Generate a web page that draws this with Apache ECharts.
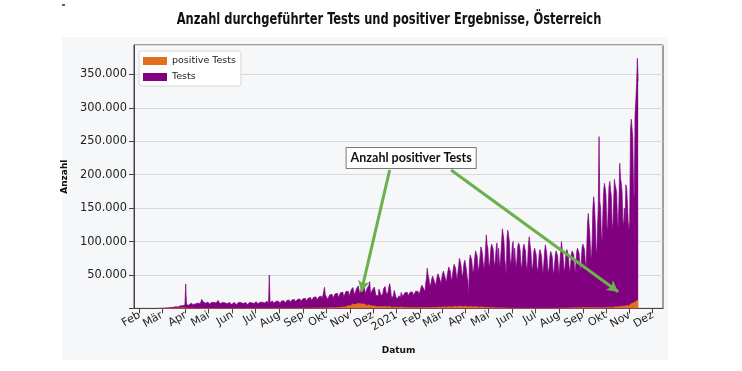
<!DOCTYPE html>
<html>
<head>
<meta charset="utf-8">
<script src="https://cdn.jsdelivr.net/npm/echarts@6/dist/echarts.min.js"></script>
<style>
html,body{margin:0;padding:0;background:#ffffff;}
#panel{position:absolute;left:62px;top:37px;width:606px;height:323px;background:#f6f7f9;}
#chart{position:absolute;left:0;top:0;width:742px;height:371px;}
</style>
</head>
<body>
<div id="panel"></div>
<div id="chart"></div>
<script>
// ---- DATA (daily values in thousands, first day 2020-02-24) ----
const firstDay = [2020, 1, 24];
const testsK = [
0.1,0.1,0.2,0.2,0.3,0.2,0.2,
0.4,0.5,0.5,0.6,0.7,0.6,0.5,
0.8,1.0,1.1,1.3,1.5,1.3,1.2,
1.6,2.0,2.3,2.6,2.8,2.4,2.2,
3.0,3.4,3.8,4.2,4.6,4.0,3.6,
4.4,5.2,36.5,5.8,6.2,5.0,4.6,
6.0,7.2,7.8,7.4,6.9,5.6,5.1,
5.6,7.0,8.1,8.4,7.8,6.0,5.5,
7.1,9.2,13.5,11.0,9.4,7.2,6.6,
7.8,9.0,9.8,9.4,8.2,6.4,6.0,
7.4,9.1,9.9,9.3,8.8,6.9,6.2,
8.0,9.4,12.0,10.2,9.1,7.0,6.3,
7.2,8.9,9.6,8.6,8.3,6.2,5.9,
7.0,8.8,9.8,9.0,8.1,6.3,5.8,
5.5,8.1,9.0,8.4,7.9,6.0,5.4,
7.1,9.0,10.4,8.0,8.7,6.6,6.0,
7.2,8.6,9.2,8.7,8.2,6.1,5.6,
7.3,9.0,9.8,9.3,8.4,6.4,6.0,
7.4,8.9,9.5,10.1,9.0,6.8,6.1,
7.9,9.3,10.0,9.8,9.1,7.0,6.4,
8.2,9.8,10.3,10.8,9.7,7.3,50.0,
8.4,10.1,10.9,11.2,10.2,7.8,7.1,
9.0,10.8,11.6,11.9,10.8,8.2,7.5,
9.3,11.2,12.4,12.1,11.5,8.6,7.9,
9.8,12.0,13.1,13.6,12.4,9.2,8.4,
10.4,12.8,14.0,14.6,13.2,9.8,9.0,
11.0,13.6,14.9,15.4,14.1,10.4,9.6,
11.8,14.5,16.0,16.4,15.0,11.0,10.2,
12.4,15.6,17.2,17.6,16.1,11.8,10.9,
13.2,16.8,18.4,19.0,17.2,12.6,11.5,
13.8,17.6,19.4,20.1,18.3,13.3,12.1,
14.4,31.5,20.2,20.8,19.0,13.8,12.6,
15.6,20.4,22.1,22.8,20.9,15.0,13.6,
16.8,22.0,23.6,24.5,22.4,16.1,14.6,
18.0,23.6,25.4,26.3,24.0,17.2,15.6,
16.2,25.2,27.1,28.0,25.6,18.3,16.5,
21.0,28.1,30.0,31.2,28.6,20.2,18.2,
22.6,30.2,32.4,33.6,35.5,21.4,19.3,
23.8,31.6,37.5,34.8,32.0,22.0,19.8,
23.2,31.0,33.4,34.5,40.0,21.6,19.2,
21.4,28.6,30.8,31.9,29.4,19.6,17.6,
20.6,18.5,29.0,30.2,27.8,18.8,16.9,
22.0,29.2,31.6,32.8,30.2,20.4,18.3,
24.4,32.6,37.0,30.1,19.2,14.8,13.6,
20.2,27.0,26.4,17.5,14.6,13.8,12.9,
19.0,21.8,15.6,23.8,22.6,17.8,16.2,
20.4,23.6,24.8,25.2,23.9,18.8,17.1,
20.8,24.6,25.9,26.1,24.2,19.0,17.3,
21.6,25.8,27.0,27.3,25.4,19.9,18.0,
26.8,31.6,34.8,36.0,33.6,27.8,24.6,
38.2,44.6,60.0,49.8,45.2,36.0,32.4,
38.8,44.8,48.2,49.6,46.0,37.6,33.8,
41.8,47.6,51.8,53.0,49.6,40.8,36.6,
45.6,51.6,55.8,57.2,53.6,43.0,38.8,
48.8,55.6,61.8,60.2,56.0,45.2,41.8,
51.0,59.6,66.0,64.2,59.8,48.0,43.6,
54.2,63.8,75.0,70.2,64.0,51.8,45.8,
57.6,67.8,72.0,69.6,58.2,47.0,41.0,
17.0,70.2,80.0,78.2,72.0,58.0,52.0,
62.6,76.0,86.2,84.0,78.0,63.0,55.0,
66.8,80.0,92.0,88.0,80.2,66.0,58.2,
70.0,88.0,110.0,95.0,90.0,68.0,60.0,
74.0,90.2,96.0,94.0,88.0,70.0,62.0,
76.0,92.0,98.0,62.0,90.0,70.0,62.0,
80.0,100.0,119.0,110.0,100.0,74.0,64.0,
48.0,105.0,117.0,110.0,100.0,74.0,64.0,
76.0,95.0,100.0,66.0,90.0,70.0,60.0,
74.0,92.0,98.0,95.0,88.0,68.0,58.0,
72.0,90.0,96.0,94.0,86.0,66.0,57.0,
70.0,96.0,107.0,95.0,88.0,66.0,56.0,
68.0,85.0,90.0,88.0,80.0,62.0,54.0,
66.0,82.0,88.0,86.0,78.0,60.0,52.0,
66.0,84.0,95.0,88.0,80.0,60.0,52.0,
63.0,78.0,85.0,82.0,76.0,58.0,50.0,
65.0,80.0,86.0,84.0,78.0,60.0,52.0,
68.0,85.0,100.0,88.0,80.0,62.0,54.0,
68.0,84.0,88.0,86.0,80.0,62.0,54.0,
66.0,82.0,86.0,88.0,80.0,60.0,54.0,
70.0,86.0,90.0,88.0,82.0,64.0,56.0,
74.0,92.0,96.0,95.0,88.0,70.0,60.0,
90.0,128.0,142.0,125.0,110.0,82.0,72.0,
100.0,150.0,167.0,155.0,130.0,92.0,80.0,
120.0,150.0,257.0,160.0,150.0,110.0,100.0,
140.0,175.0,187.0,180.0,170.0,125.0,115.0,
150.0,182.0,190.0,178.0,168.0,128.0,118.0,
155.0,193.0,185.0,180.0,172.0,130.0,120.0,
160.0,217.0,195.0,187.0,175.0,132.0,122.0,
150.0,125.0,185.0,180.0,157.0,128.0,118.0,
130.0,265.0,283.0,270.0,255.0,175.0,165.0,
290.0,311.0,336.0,374.0,340.0
];
const positivesK = [
0,0,0,0,0,0,0,
0.01,0.01,0.01,0.02,0.02,0.03,0.04,
0.05,0.07,0.08,0.1,0.2,0.2,0.3,
0.3,0.4,0.5,0.5,0.6,0.6,0.6,
0.8,0.9,1.0,1.1,1.0,0.8,0.6,
0.6,0.8,0.5,0.4,0.4,0.3,0.3,
0.3,0.3,0.3,0.3,0.2,0.2,0.2,
0.1,0.1,0.1,0.1,0.1,0.1,0.1,
0.08,0.07,0.08,0.07,0.06,0.05,0.05,
0.05,0.05,0.06,0.05,0.05,0.04,0.04,
0.04,0.05,0.05,0.05,0.04,0.04,0.03,
0.04,0.05,0.05,0.04,0.04,0.03,0.03,
0.03,0.04,0.04,0.04,0.03,0.03,0.03,
0.03,0.04,0.05,0.04,0.04,0.03,0.03,
0.03,0.04,0.04,0.05,0.04,0.03,0.03,
0.04,0.05,0.05,0.04,0.05,0.04,0.03,
0.04,0.05,0.05,0.05,0.04,0.04,0.03,
0.05,0.06,0.07,0.08,0.07,0.06,0.05,
0.07,0.08,0.1,0.1,0.09,0.08,0.07,
0.08,0.1,0.11,0.1,0.1,0.09,0.08,
0.1,0.11,0.12,0.12,0.11,0.1,0.09,
0.1,0.12,0.13,0.13,0.12,0.11,0.1,
0.12,0.14,0.15,0.15,0.14,0.12,0.11,
0.13,0.15,0.16,0.16,0.15,0.13,0.12,
0.14,0.17,0.18,0.18,0.17,0.15,0.13,
0.16,0.2,0.22,0.23,0.21,0.18,0.16,
0.2,0.25,0.28,0.3,0.27,0.22,0.19,
0.22,0.28,0.3,0.32,0.3,0.25,0.21,
0.3,0.36,0.4,0.42,0.4,0.33,0.28,
0.4,0.5,0.6,0.65,0.6,0.5,0.45,
0.55,0.65,0.75,0.8,0.75,0.6,0.5,
0.6,0.7,0.8,0.85,0.8,0.65,0.55,
0.7,0.9,1.0,1.1,1.2,0.9,0.8,
1.0,1.2,1.3,1.5,1.4,1.2,1.1,
1.5,1.8,2.0,2.4,2.5,2.1,1.8,
2.0,2.5,3.0,3.5,4.5,4.0,3.5,
4.0,5.5,6.5,6.8,7.2,6.0,5.5,
5.2,6.5,7.5,8.0,9.5,7.2,6.0,
5.6,6.4,7.0,7.3,6.8,5.8,4.8,
4.5,5.0,5.0,5.4,5.0,4.2,3.8,
3.4,3.8,3.9,3.9,3.7,3.2,2.9,
2.6,2.5,3.0,3.2,3.0,2.7,2.4,
2.3,2.7,2.9,3.0,2.8,2.5,2.3,
2.4,2.9,3.0,2.6,1.8,1.5,1.4,
1.7,2.2,2.5,2.0,1.8,1.6,1.5,
1.6,2.0,1.6,2.2,2.1,1.6,1.4,
1.5,1.8,1.9,1.8,1.7,1.4,1.3,
1.3,1.5,1.6,1.5,1.4,1.2,1.1,
1.1,1.3,1.4,1.3,1.3,1.1,1.0,
1.1,1.3,1.4,1.4,1.3,1.1,1.0,
1.2,1.4,1.5,1.5,1.4,1.2,1.1,
1.4,1.6,1.8,1.8,1.7,1.5,1.3,
1.6,1.9,2.1,2.0,2.0,1.7,1.5,
1.8,2.1,2.3,2.3,2.2,1.9,1.6,
2.0,2.5,2.7,2.8,2.6,2.2,1.9,
2.4,3.0,3.2,3.3,3.1,2.6,2.3,
2.6,3.3,3.5,3.6,3.4,2.9,2.5,
2.5,3.2,3.4,3.5,3.1,2.6,2.2,
1.8,2.6,3.0,3.1,2.9,2.5,2.2,
2.0,2.6,2.8,2.8,2.6,2.2,1.9,
1.8,2.2,2.4,2.3,2.2,1.8,1.6,
1.5,1.8,1.9,1.8,1.7,1.4,1.2,
1.2,1.4,1.5,1.4,1.3,1.1,0.9,
0.9,1.0,1.1,0.8,0.9,0.8,0.7,
0.7,0.8,0.8,0.7,0.7,0.6,0.5,
0.4,0.5,0.5,0.5,0.4,0.4,0.3,
0.3,0.4,0.4,0.3,0.3,0.3,0.2,
0.2,0.3,0.3,0.2,0.2,0.2,0.2,
0.15,0.2,0.2,0.2,0.15,0.15,0.1,
0.1,0.15,0.15,0.15,0.1,0.1,0.1,
0.1,0.12,0.12,0.12,0.1,0.1,0.1,
0.1,0.15,0.15,0.15,0.1,0.1,0.1,
0.1,0.2,0.2,0.2,0.2,0.2,0.1,
0.2,0.3,0.3,0.3,0.3,0.2,0.2,
0.3,0.4,0.4,0.4,0.4,0.3,0.3,
0.4,0.5,0.5,0.5,0.5,0.4,0.3,
0.5,0.6,0.7,0.7,0.7,0.6,0.5,
0.7,0.8,0.9,0.9,0.9,0.8,0.7,
0.9,1.1,1.2,1.2,1.1,1.0,0.9,
1.1,1.3,1.4,1.5,1.4,1.2,1.0,
1.2,1.5,1.6,1.6,1.5,1.3,1.1,
1.1,1.4,1.5,1.5,1.4,1.2,1.0,
1.0,1.2,1.3,1.3,1.2,1.0,0.9,
1.0,1.2,1.3,1.4,1.3,1.1,1.0,
1.3,1.6,1.8,1.9,1.8,1.6,1.4,
1.8,2.2,2.5,2.6,2.5,2.2,2.0,
2.5,3.0,3.3,3.4,3.3,3.0,2.7,
3.2,3.0,4.3,4.5,4.6,4.1,3.8,
4.2,6.2,7.2,8.2,9.0,8.4,7.5,
8.8,10.5,11.6,12.4,13.0
];
const monthTickLabels = ['Feb','Mär','Apr','Mai','Jun','Jul','Aug','Sep','Okt','Nov','Dez',
  '2021','Feb','Mär','Apr','Mai','Jun','Jul','Aug','Sep','Okt','Nov','Dez'];
const seriesNames = ['positive Tests', 'Tests'];
const titleText = 'Anzahl durchgeführter Tests und positiver Ergebnisse, Österreich';
const annotationText = 'Anzahl positiver Tests';
// annotation anchor (date, value) and arrows [from date, from value, to date, to value]
const annotationAnchor = ['2021-01-20', 224800];
const arrows = [
  ['2020-12-23', 207000, '2020-11-16', 25000],
  ['2021-03-13', 207000, '2021-10-17', 25000]
];

// ---- build ----
function dayTs(i) { return new Date(firstDay[0], firstDay[1], firstDay[2] + i).getTime(); }
function parseD(s) { const p = s.split('-').map(Number); return new Date(p[0], p[1]-1, p[2]).getTime(); }
const testsData = testsK.map((v, i) => [dayTs(i), Math.round(v * 1000)]);
const posData = positivesK.map((v, i) => [dayTs(i), Math.round(v * 1000)]);
const tickValues = monthTickLabels.map((_, i) => new Date(2020, 1 + i, 1).getTime());
const tickLabelMap = {};
tickValues.forEach((t, i) => { tickLabelMap[t] = monthTickLabels[i]; });

const chart = echarts.init(document.getElementById('chart'), null, {renderer: 'canvas'});
const tickFont = 'DejaVu Sans';
const headFont = "'DejaVu Sans Condensed','DejaVu Sans',sans-serif";
chart.setOption({
  animation: false,
  backgroundColor: 'transparent',
  legend: {
    data: seriesNames, orient: 'vertical', left: 139, top: 51,
    itemWidth: 24, itemHeight: 8, itemGap: 6, icon: 'rect',
    backgroundColor: '#ffffff', borderColor: '#d6d6d6', borderWidth: 1, borderRadius: 3,
    padding: [5, 5, 4, 4],
    textStyle: {fontFamily: tickFont, fontSize: 9.5, color: '#222'}
  },
  graphic: [
    {type: 'rect', shape: {x: 62, y: 4, width: 3, height: 2}, style: {fill: '#5a6070'}},
    {type: 'text', x: 389, y: 20, scaleX: 0.85, z: 100,
      style: {text: titleText, font: "bold 15px " + headFont, fill: '#111', align: 'center', verticalAlign: 'middle'}}
  ],
  grid: {left: 134, right: 79, top: 45, bottom: 62.6, show: true, backgroundColor: '#f6f7f9', borderColor: '#444', borderWidth: 1},
  xAxis: {
    type: 'value',
    min: new Date(2020, 0, 24, 14).getTime(),
    max: new Date(2021, 11, 14, 10).getTime(),
    name: 'Datum', nameLocation: 'middle', nameGap: 38,
    nameTextStyle: {fontFamily: tickFont, fontWeight: 'bold', fontSize: 9, color: '#111'},
    axisLine: {show: true, onZero: false, lineStyle: {color: '#444', width: 1}},
    axisTick: {show: true, customValues: tickValues, length: 5, lineStyle: {color: '#444'}},
    splitLine: {show: false},
    axisLabel: {
      customValues: tickValues, rotate: 30, margin: 6,
      fontFamily: tickFont, fontSize: 11, color: '#222',
      formatter: function (v) { return tickLabelMap[v] || ''; }
    }
  },
  yAxis: {
    type: 'value', min: 0, max: 394000, interval: 50000,
    name: 'Anzahl', nameLocation: 'middle', nameGap: 51, nameRotate: 90,
    nameTextStyle: {fontFamily: tickFont, fontWeight: 'bold', fontSize: 9, color: '#111'},
    axisLine: {show: true, lineStyle: {color: '#444', width: 1}},
    axisTick: {show: true, length: 5, lineStyle: {color: '#444'}},
    splitLine: {show: true, lineStyle: {color: '#d9d9d9', width: 1}},
    axisLabel: {
      showMaxLabel: false, margin: 7, fontFamily: tickFont, fontSize: 11.4, color: '#222',
      formatter: function (v) { return v === 0 ? '' : (v / 1000) + '.000'; }
    }
  },
  series: [
    {
      name: 'Tests', type: 'line', data: testsData, symbol: 'none', showSymbol: false, sampling: 'none',
      z: 2, color: '#800080',
      lineStyle: {width: 0.7, color: '#800080'},
      areaStyle: {color: '#800080', opacity: 1}
    },
    {
      name: 'positive Tests', type: 'line', data: posData, symbol: 'none', showSymbol: false, sampling: 'none',
      z: 3, color: '#e0701f',
      lineStyle: {width: 0.6, color: '#e0701f'},
      areaStyle: {color: '#e0701f', opacity: 1},
      markLine: {
        silent: true, symbol: ['none', 'arrow'], symbolSize: [9, 11], z: 10,
        lineStyle: {color: '#6ab04c', width: 3, type: 'solid'},
        label: {show: false},
        data: arrows.map(a => [{coord: [parseD(a[0]), a[1]]}, {coord: [parseD(a[2]), a[3]]}])
      },
      markPoint: {
        silent: true, z: 11,
        symbol: 'rect', symbolSize: 2,
        itemStyle: {color: 'rgba(255,255,255,0)'},
        label: {show: true, position: 'inside', formatter: annotationText,
          fontFamily: 'Lato', fontWeight: 'bold', fontSize: 12.5, color: '#111',
          backgroundColor: '#ffffff', borderColor: '#7a7a7a', borderWidth: 1,
          padding: [4, 4, 3, 4]},
        data: [{coord: [parseD(annotationAnchor[0]), annotationAnchor[1]]}]
      }
    }
  ]
});
</script>
</body>
</html>
